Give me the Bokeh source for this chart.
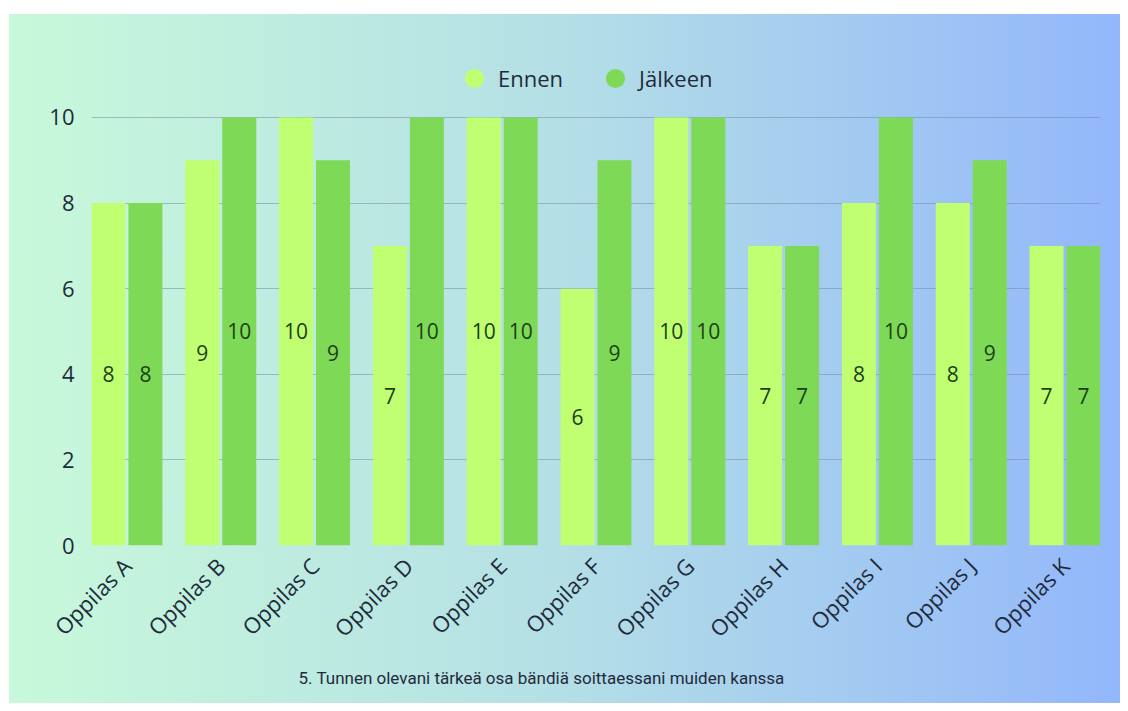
import math
from bokeh.plotting import figure
from bokeh.models import ColumnDataSource, Range1d, FixedTicker, Legend, LegendItem, Title
from bokeh.transform import dodge
from bokeh.core.properties import value
from bokeh.embed import file_html
from bokeh.resources import INLINE

# ---------------- data ----------------
categories = ["Oppilas A", "Oppilas B", "Oppilas C", "Oppilas D", "Oppilas E", "Oppilas F",
              "Oppilas G", "Oppilas H", "Oppilas I", "Oppilas J", "Oppilas K"]
ennen = [8, 9, 10, 7, 10, 6, 10, 7, 8, 8, 7]
jalkeen = [8, 10, 9, 10, 10, 9, 10, 7, 10, 9, 7]
series_names = ["Ennen", "Jälkeen"]
y_ticks = [0, 2, 4, 6, 8, 10]
title_text = "5. Tunnen olevani tärkeä osa bändiä soittaessani muiden kanssa"

# ---------------- style ----------------
LIGHT = "#c1ff72"
DARK = "#7ed957"
TEXT = "#1f2b3b"
VALTEXT = "#1d3f17"
FONT = "Open Sans"

idx = list(range(len(categories)))
src = ColumnDataSource(dict(
    x=idx,
    ennen=ennen,
    jalkeen=jalkeen,
    ennen_mid=[v / 2 for v in ennen],
    jalkeen_mid=[v / 2 for v in jalkeen],
    ennen_txt=[str(v) for v in ennen],
    jalkeen_txt=[str(v) for v in jalkeen],
))

W, H = 1120, 703
p = figure(width=W, height=H,
           x_range=Range1d(-0.378, len(categories) - 1 + 0.378),
           y_range=Range1d(0, 11.612),
           output_backend="svg", toolbar_location=None,
           min_border_left=91, min_border_right=20, min_border_top=48, min_border_bottom=158)

p.styles = {"background": "linear-gradient(90deg, #c8f9da 0%, #b4dfe6 50%, #93b7fb 100%) "
                          "9px 14px / calc(100% - 9px) calc(100% - 14px) no-repeat, #ffffff"}
p.border_fill_color = None
p.background_fill_color = None
p.outline_line_color = None

OFF = 0.197
BW = 0.3625
p.vbar(x=dodge("x", -OFF), top="ennen", width=BW, source=src, fill_color=LIGHT, line_color=None)
p.vbar(x=dodge("x", OFF), top="jalkeen", width=BW, source=src, fill_color=DARK, line_color=None)

p.text(x=dodge("x", -OFF), y="ennen_mid", text="ennen_txt", source=src,
       text_align="center", text_baseline="middle", text_font=value(FONT),
       text_font_size="21px", text_color=VALTEXT)
p.text(x=dodge("x", OFF), y="jalkeen_mid", text="jalkeen_txt", source=src,
       text_align="center", text_baseline="middle", text_font=value(FONT),
       text_font_size="21px", text_color=VALTEXT)

# axes
p.xaxis.ticker = FixedTicker(ticks=idx)
p.xaxis.major_label_overrides = {i: c for i, c in zip(idx, categories)}
p.xaxis.major_label_orientation = math.pi / 4
p.xaxis.major_label_text_font = FONT
p.xaxis.major_label_text_font_size = "22px"
p.xaxis.major_label_text_color = TEXT
p.xaxis.major_label_standoff = 10
p.xaxis.axis_line_color = None
p.xaxis.major_tick_line_color = None
p.xaxis.minor_tick_line_color = None

p.yaxis.ticker = FixedTicker(ticks=y_ticks)
p.yaxis.major_label_text_font = FONT
p.yaxis.major_label_text_font_size = "22px"
p.yaxis.major_label_text_color = TEXT
p.yaxis.major_label_standoff = 11
p.yaxis.axis_line_color = None
p.yaxis.major_tick_line_color = None
p.yaxis.minor_tick_line_color = None

p.xgrid.grid_line_color = None
p.ygrid.ticker = FixedTicker(ticks=y_ticks)
p.ygrid.grid_line_color = "#6f8ea6"
p.ygrid.grid_line_alpha = 0.55

# legend (markers kept off the plot with NaN coordinates)
nan = float("nan")
r1 = p.scatter(x=[nan], y=[nan], marker="circle", size=20, fill_color=LIGHT, line_color=None)
r2 = p.scatter(x=[nan], y=[nan], marker="circle", size=20, fill_color=DARK, line_color=None)
legend = Legend(items=[LegendItem(label=series_names[0], renderers=[r1], index=0),
                       LegendItem(label=series_names[1], renderers=[r2], index=0)],
                orientation="horizontal", location=(359, 440),
                glyph_width=48, glyph_height=54, label_standoff=0, spacing=28,
                padding=0, margin=0, border_line_color=None, background_fill_alpha=0,
                label_text_font=FONT, label_text_font_size="22px", label_text_color=TEXT)
p.add_layout(legend)

title = Title(text=title_text, align="left", offset=207, text_font="Roboto",
              text_font_size="17px", text_font_style="normal", text_color=TEXT, standoff=19)
p.add_layout(title, "below")

open("out.html", "w").write(file_html(p, INLINE))
